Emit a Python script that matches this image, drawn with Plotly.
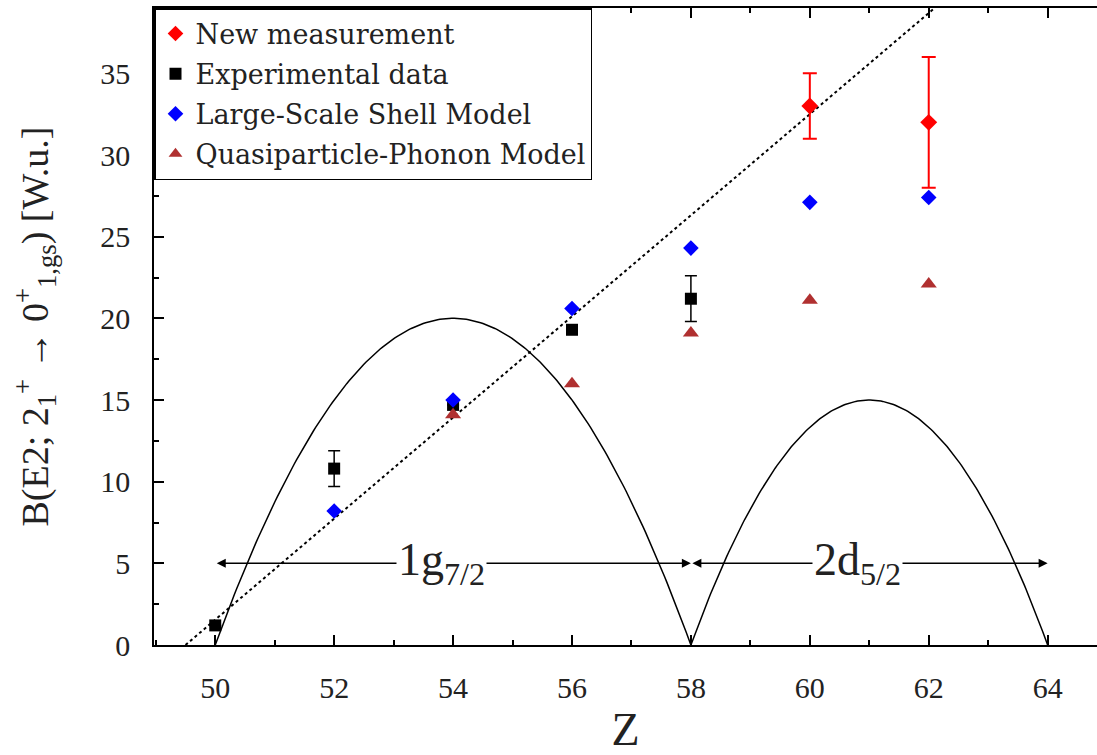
import numpy as np
import plotly.graph_objects as go

# New measurement
new_z = [60, 62]
new_b = [33.0, 32.0]
new_err = [2.0, 4.0]

# Previously known experimental values
exp_z = [50, 52, 54, 56, 58]
exp_b = [1.2, 10.8, 14.7, 19.3, 21.2]
exp_err = [0.0, 1.1, 0.0, 0.0, 1.4]

# Large-Scale Shell Model
lssm_z = [52, 54, 56, 58, 60, 62]
lssm_b = [8.2, 15.0, 20.6, 24.3, 27.1, 27.4]

# Quasiparticle-Phonon Model
qpm_z = [54, 56, 58, 60, 62]
qpm_b = [14.1, 16.0, 19.1, 21.1, 22.1]

# Seniority-scheme parabolas for the two proton orbitals
orb_start = [50, 58]
orb_end = [58, 64]
orb_peak = [20.0, 15.0]
orb_names = ["1g<sub>7/2</sub>", "2d<sub>5/2</sub>"]
orb_label_b = 5.0

# Linear trend (dotted)
trend_z = [49.5, 62.1]
trend_b = [0.0, 39.0]

FONT = "Liberation Serif"
LEGEND_FONT = "DejaVu Serif"

fig = go.Figure()

# seniority curves
for z0, z1, pk in zip(orb_start, orb_end, orb_peak):
    zz = np.linspace(z0, z1, 200)
    mid = 0.5 * (z0 + z1)
    half = 0.5 * (z1 - z0)
    bb = pk * (1 - ((zz - mid) / half) ** 2)
    fig.add_trace(go.Scatter(x=zz, y=bb, mode="lines",
                             line=dict(color="black", width=1.5),
                             showlegend=False, hoverinfo="skip"))

fig.add_trace(go.Scatter(x=trend_z, y=trend_b, mode="lines",
                         line=dict(color="black", width=2, dash="dot"),
                         showlegend=False, hoverinfo="skip"))

fig.add_trace(go.Scatter(
    x=new_z, y=new_b, mode="markers", name="New measurement", legendgroup="new",
    marker=dict(symbol="diamond", color="red", size=13),
    error_y=dict(type="data", array=new_err, color="red", thickness=2, width=7)))

fig.add_trace(go.Scatter(
    x=exp_z, y=exp_b, mode="markers", name="Experimental data", legendgroup="exp",
    marker=dict(symbol="square", color="black", size=12),
    error_y=dict(type="data", array=exp_err, color="black", thickness=1.5, width=6)))

fig.add_trace(go.Scatter(
    x=lssm_z, y=lssm_b, mode="markers", name="Large-Scale Shell Model", legendgroup="lssm",
    marker=dict(symbol="diamond", color="blue", size=12)))

fig.add_trace(go.Scatter(
    x=qpm_z, y=qpm_b, mode="markers", name="Quasiparticle-Phonon Model", legendgroup="qpm",
    marker=dict(symbol="triangle-up", color="#b03030", size=14)))

# double-headed arrows marking each orbital's extent
for z0, z1, name in zip(orb_start, orb_end, orb_names):
    fig.add_annotation(x=z1, y=orb_label_b, ax=z0, ay=orb_label_b,
                       xref="x", yref="y", axref="x", ayref="y",
                       showarrow=True, arrowhead=2, arrowside="end+start",
                       arrowsize=1.2, arrowwidth=1.5, arrowcolor="black", text="")
    fig.add_annotation(x=0.5 * (z0 + z1) - 0.2, y=orb_label_b, xref="x", yref="y",
                       text=name, showarrow=False, bgcolor="white",
                       font=dict(family=FONT, size=46, color="#222"))

fig.update_layout(
    width=1097, height=755,
    margin=dict(l=154, r=0, t=8, b=110),
    plot_bgcolor="white", paper_bgcolor="white",
    font=dict(family=FONT, color="#222"),
    legend=dict(x=0, y=1, xanchor="left", yanchor="top",
                bgcolor="white", bordercolor="black", borderwidth=1.5,
                font=dict(family=LEGEND_FONT, size=27, color="#222"),
                itemsizing="constant", tracegroupgap=2),
)
fig.update_xaxes(range=[48.97, 64.83], tickmode="linear", tick0=50, dtick=2,
                 ticks="inside", ticklen=10, tickwidth=1.5, tickcolor="black",
                 minor=dict(ticks="inside", dtick=1, ticklen=5, tickcolor="black"),
                 showline=True, linecolor="black", linewidth=1.5, mirror="allticks",
                 showgrid=False, zeroline=False, ticklabelstandoff=15,
                 tickfont=dict(family=FONT, size=30),
                 title=dict(text="Z", font=dict(family=FONT, size=46), standoff=12))
fig.update_yaxes(range=[0, 39], tickmode="linear", tick0=0, dtick=5,
                 ticks="inside", ticklen=10, tickwidth=1.5, tickcolor="black",
                 minor=dict(ticks="inside", dtick=2.5, ticklen=5, tickcolor="black"),
                 showline=True, linecolor="black", linewidth=1.5, mirror=False,
                 showgrid=False, zeroline=False, ticklabelstandoff=16,
                 tickfont=dict(family=FONT, size=30),
                 title=dict(text="B(E2; 2<sub>1</sub><sup>+</sup> → 0<sup>+</sup><sub>1,gs</sub>) [W.u.]",
                            font=dict(family=FONT, size=38), standoff=40))

fig.write_html("out.html")
